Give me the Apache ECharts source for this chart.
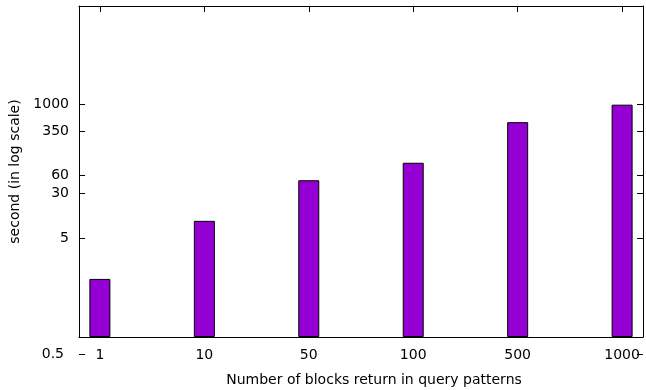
<!DOCTYPE html>
<html>
<head>
<meta charset="utf-8">
<script src="https://cdn.jsdelivr.net/npm/echarts@6/dist/echarts.min.js"></script>
<style>html,body{margin:0;padding:0;background:#fff}#c{width:646px;height:390px}</style>
</head>
<body>
<div id="c"></div>
<script>
// ---- data ----
const categories = ['1', '10', '50', '100', '500', '1000'];
const seconds = [1, 10, 50, 100, 500, 1000];
const yTickValues = [5, 30, 60, 350, 1000];
const yTickLabels = ['5', '30', '60', '350', '1000'];
const yLowTickLabel = '0.5';
const xTitle = 'Number of blocks return in query patterns';
const yTitle = 'second (in log scale)';

const FONT = 'DejaVu Sans';
const FS = 14;
const positions = categories.map((c, i) => i + 1);
const barData = seconds.map((v, i) => [positions[i], v]);

const chart = echarts.init(document.getElementById('c'), null, {renderer: 'canvas'});
const lineStyle = {color: '#000', width: 1};
const tickIn = {show: true, inside: true, length: 6, lineStyle: lineStyle};

chart.setOption({
  animation: false,
  backgroundColor: '#fff',
  textStyle: {fontFamily: FONT, color: '#000'},
  grid: [
    {left: 79, right: 3, top: 6, bottom: 53, containLabel: false, outerBoundsMode: 'none'},
    {left: 79, right: 3, top: 6, bottom: 36, containLabel: false, outerBoundsMode: 'none'}
  ],
  xAxis: [
    {
      type: 'value', gridIndex: 0, position: 'bottom', min: 0.8, max: 6.2,
      axisLine: {show: true, onZero: false, lineStyle: lineStyle},
      axisTick: Object.assign({customValues: positions}, tickIn),
      axisLabel: {
        customValues: positions, margin: 11, fontSize: FS, fontFamily: FONT, color: '#000',
        formatter: v => categories[Math.round(v) - 1] || ''
      },
      splitLine: {show: false},
      name: xTitle, nameLocation: 'middle', nameGap: 36,
      nameTextStyle: {fontSize: FS, fontFamily: FONT, color: '#000', padding: [0, 0, 0, 26]}
    },
    {
      type: 'value', gridIndex: 0, position: 'top', min: 0.8, max: 6.2,
      axisLine: {show: true, onZero: false, lineStyle: lineStyle},
      axisTick: Object.assign({customValues: positions}, tickIn),
      axisLabel: {show: false, customValues: positions},
      splitLine: {show: false}
    },
    {
      type: 'value', gridIndex: 1, min: 0, max: 1, show: false
    }
  ],
  yAxis: [
    {
      type: 'log', gridIndex: 0, position: 'left', logBase: 10, min: 0.1, max: 50000,
      startValue: 0.1,
      axisLine: {show: true, onZero: false, lineStyle: lineStyle},
      axisTick: Object.assign({customValues: yTickValues}, tickIn),
      axisLabel: {
        customValues: yTickValues, margin: 10, fontSize: FS, fontFamily: FONT, color: '#000',
        formatter: v => {
          const i = yTickValues.findIndex(t => Math.abs(t - v) / t < 1e-6);
          return i >= 0 ? yTickLabels[i] : '';
        }
      },
      splitLine: {show: false},
      name: yTitle, nameLocation: 'middle', nameGap: 56, nameRotate: 90,
      nameTextStyle: {fontSize: FS, fontFamily: FONT, color: '#000'}
    },
    {
      type: 'log', gridIndex: 0, position: 'right', logBase: 10, min: 0.1, max: 50000,
      axisLine: {show: true, onZero: false, lineStyle: lineStyle},
      axisTick: Object.assign({customValues: yTickValues}, tickIn),
      axisLabel: {show: false, customValues: yTickValues},
      splitLine: {show: false}
    },
    {
      type: 'value', gridIndex: 1, position: 'left', min: 0, max: 1,
      axisLine: {show: false},
      axisTick: Object.assign({customValues: [0]}, tickIn),
      axisLabel: {customValues: [0], margin: 15, fontSize: FS, fontFamily: FONT, color: '#000',
        formatter: () => yLowTickLabel},
      splitLine: {show: false}
    },
    {
      type: 'value', gridIndex: 1, position: 'right', min: 0, max: 1,
      axisLine: {show: false},
      axisTick: Object.assign({customValues: [0]}, tickIn),
      axisLabel: {show: false, customValues: [0]},
      splitLine: {show: false}
    }
  ],
  series: [{
    type: 'bar', xAxisIndex: 0, yAxisIndex: 0, data: barData, barWidth: 21,
    itemStyle: {color: '#9400D3', borderColor: '#000', borderWidth: 1},
    z: 5
  }]
});
</script>
</body>
</html>
